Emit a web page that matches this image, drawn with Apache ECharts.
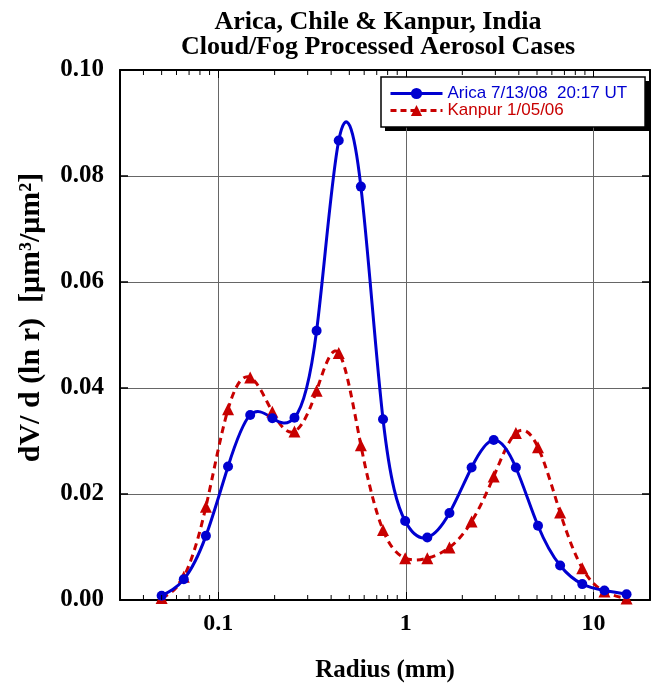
<!DOCTYPE html>
<html>
<head>
<meta charset="utf-8">
<script src="https://cdn.jsdelivr.net/npm/echarts@6/dist/echarts.min.js"></script>
<style>
  html, body { margin: 0; padding: 0; background: #fff; }
  #chart { width: 651px; height: 691px; }
</style>
</head>
<body>
<div id="chart"></div>
<script>
// AERONET radius bins (um)
const radii = [0.05, 0.065604, 0.086077, 0.112939, 0.148184, 0.194429, 0.255105, 0.334716,
  0.439173, 0.576227, 0.756052, 0.991996, 1.301571, 1.707757, 2.240702, 2.939966,
  3.857452, 5.06126, 6.640745, 8.713145, 11.432287, 15.0];

// dV/dlnr values
const arica = [0.0008, 0.0039, 0.0121, 0.0252, 0.0349, 0.0343, 0.0344, 0.0508,
  0.0867, 0.0780, 0.0341, 0.0149, 0.0118, 0.0164, 0.0250, 0.0302,
  0.0250, 0.0140, 0.0065, 0.0030, 0.0018, 0.0011];
const kanpur = [0.0004, 0.0044, 0.0176, 0.0360, 0.0420, 0.0355, 0.0318, 0.0395,
  0.0466, 0.0292, 0.0132, 0.0079, 0.0079, 0.0099, 0.0148, 0.0233,
  0.0315, 0.0288, 0.0165, 0.0060, 0.0016, 0.0003];

const seriesNames = ['Arica 7/13/08  20:17 UT', 'Kanpur 1/05/06'];
const minorTicks = [0.04, 0.05, 0.06, 0.07, 0.08, 0.09,
  0.2, 0.3, 0.4, 0.5, 0.6, 0.7, 0.8, 0.9,
  2, 3, 4, 5, 6, 7, 8, 9];

const BLUE = '#0000d0';
const RED = '#c80000';
const serif = '"Liberation Serif", "Times New Roman", serif';

const chart = echarts.init(document.getElementById('chart'), null, { renderer: 'canvas' });

const pairs = (xs, ys) => xs.map((x, i) => [x, ys[i]]);

// natural cubic spline through pixel points, written as bezier path data
function splinePath(pts) {
    const n = pts.length;
    const h = [], M = new Array(n).fill(0);
    for (let i = 0; i < n - 1; i++) h.push(pts[i + 1][0] - pts[i][0]);
    // tridiagonal solve for second derivatives
    const a = [], b = [], c = [], d = [];
    for (let i = 1; i < n - 1; i++) {
        a.push(h[i - 1]);
        b.push(2 * (h[i - 1] + h[i]));
        c.push(h[i]);
        d.push(6 * ((pts[i + 1][1] - pts[i][1]) / h[i] - (pts[i][1] - pts[i - 1][1]) / h[i - 1]));
    }
    const m = b.length;
    for (let i = 1; i < m; i++) {
        const w = a[i] / b[i - 1];
        b[i] -= w * c[i - 1];
        d[i] -= w * d[i - 1];
    }
    const sol = new Array(m);
    sol[m - 1] = d[m - 1] / b[m - 1];
    for (let i = m - 2; i >= 0; i--) sol[i] = (d[i] - c[i] * sol[i + 1]) / b[i];
    for (let i = 0; i < m; i++) M[i + 1] = sol[i];

    let p = 'M' + pts[0][0] + ' ' + pts[0][1];
    for (let i = 0; i < n - 1; i++) {
        const s = (pts[i + 1][1] - pts[i][1]) / h[i];
        const m0 = s - h[i] * (2 * M[i] + M[i + 1]) / 6;
        const m1 = s + h[i] * (M[i] + 2 * M[i + 1]) / 6;
        const x0 = pts[i][0], y0 = pts[i][1], x1 = pts[i + 1][0], y1 = pts[i + 1][1];
        p += ' C' + (x0 + h[i] / 3) + ' ' + (y0 + m0 * h[i] / 3) + ' ' +
            (x1 - h[i] / 3) + ' ' + (y1 - m1 * h[i] / 3) + ' ' + x1 + ' ' + y1;
    }
    return p;
}

function curveSeries(values, color, dash) {
    return {
        type: 'custom',
        silent: true,
        data: [[radii[0], values[0]]],
        renderItem: function (params, api) {
            const pts = radii.map((r, i) => api.coord([r, values[i]]));
            return {
                type: 'path',
                shape: { pathData: splinePath(pts) },
                style: { fill: null, stroke: color, lineWidth: 3, lineDash: dash }
            };
        },
        z: 2
    };
}

const option = {
    animation: false,
    backgroundColor: '#fff',
    title: {
        text: 'Arica, Chile & Kanpur, India\nCloud/Fog Processed Aerosol Cases',
        left: 373,
        top: 5,
        textAlign: 'center',
        textStyle: {
            fontFamily: serif,
            fontWeight: 'bold',
            fontSize: 26,
            lineHeight: 25,
            color: '#000'
        }
    },
    legend: {
        orient: 'vertical',
        left: 381,
        top: 77,
        padding: [8, 18, 8, 8],
        itemGap: 0,
        itemWidth: 52,
        itemHeight: 14,
        backgroundColor: '#fff',
        borderColor: '#000',
        borderWidth: 1.5,
        textStyle: { fontFamily: '"Liberation Sans", Arial, sans-serif', fontSize: 17 },
        data: [
            { name: seriesNames[0], textStyle: { color: BLUE }, lineStyle: { color: BLUE, width: 3, type: 'solid', opacity: 1 } },
            { name: seriesNames[1], textStyle: { color: RED }, lineStyle: { color: RED, width: 3, type: [6, 4], opacity: 1 } }
        ]
    },
    graphic: [
        // drop shadow behind the legend box
        { type: 'rect', left: 385, top: 81, shape: { width: 264, height: 50 }, style: { fill: '#000' }, z: 0, silent: true }
    ],
    grid: { left: 120, right: 1, top: 70, bottom: 91 },
    xAxis: [
        {
            type: 'log',
            logBase: 10,
            min: 0.03,
            max: 20,
            name: 'Radius (mm)',
            nameLocation: 'middle',
            nameGap: 58,
            nameTextStyle: { fontFamily: serif, fontWeight: 'bold', fontSize: 25, color: '#000' },
            axisLine: { show: true, onZero: false, lineStyle: { color: '#000', width: 2 } },
            axisTick: { show: true, inside: true, length: 8, lineStyle: { color: '#000' } },
            axisLabel: {
                showMinLabel: false,
                showMaxLabel: false,
                margin: 12,
                fontFamily: serif,
                fontWeight: 'bold',
                fontSize: 24,
                color: '#000',
                formatter: v => String(v)
            },
            splitLine: { show: true, lineStyle: { color: '#666', width: 1 } },
            minorTick: { show: false }
        },
        {
            type: 'log',
            logBase: 10,
            min: 0.03,
            max: 20,
            position: 'top',
            axisLine: { show: true, onZero: false, lineStyle: { color: '#000', width: 2 } },
            axisTick: { show: true, inside: true, length: 8, lineStyle: { color: '#000' } },
            axisLabel: { show: false },
            splitLine: { show: false }
        }
    ],
    yAxis: [
        {
            type: 'value',
            min: 0,
            max: 0.1,
            interval: 0.02,
            name: 'dV/ d (ln r)  [μm³/μm²]',
            nameLocation: 'middle',
            nameGap: 74,
            nameRotate: 90,
            nameTextStyle: {
                fontFamily: serif, fontWeight: 'bold', fontSize: 30, color: '#000',
                padding: [0, 0, 0, 35]
            },
            axisLine: { show: true, onZero: false, lineStyle: { color: '#000', width: 2 } },
            axisTick: { show: true, inside: true, length: 8, lineStyle: { color: '#000', width: 1.5 } },
            axisLabel: {
                margin: 16,
                fontFamily: serif,
                fontWeight: 'bold',
                fontSize: 25,
                color: '#000',
                formatter: v => v.toFixed(2)
            },
            splitLine: { show: true, lineStyle: { color: '#666', width: 1 } }
        },
        {
            type: 'value',
            min: 0,
            max: 0.1,
            interval: 0.02,
            position: 'right',
            axisLine: { show: true, onZero: false, lineStyle: { color: '#000', width: 2 } },
            axisTick: { show: true, inside: true, length: 8, lineStyle: { color: '#000', width: 1.5 } },
            axisLabel: { show: false },
            splitLine: { show: false }
        }
    ],
    series: [
        curveSeries(kanpur, RED, [7, 5]),
        curveSeries(arica, BLUE, null),
        {
            name: seriesNames[1],
            type: 'line',
            data: pairs(radii, kanpur),
            symbol: 'triangle',
            symbolSize: 12,
            clip: false,
            itemStyle: { color: RED },
            lineStyle: { color: RED, width: 3, opacity: 0 },
            z: 3
        },
        {
            name: seriesNames[0],
            type: 'line',
            data: pairs(radii, arica),
            symbol: 'circle',
            symbolSize: 10,
            clip: false,
            itemStyle: { color: BLUE },
            lineStyle: { color: BLUE, width: 3, opacity: 0 },
            z: 4
        },
        {
            // minor log ticks on bottom and top axes
            type: 'custom',
            silent: true,
            data: minorTicks.map(v => [v, 0]),
            renderItem: function (params, api) {
                const v = api.value(0);
                const b = api.coord([v, 0]);
                const t = api.coord([v, 0.1]);
                return {
                    type: 'group',
                    children: [
                        { type: 'line', shape: { x1: b[0], y1: b[1], x2: b[0], y2: b[1] - 5 }, style: { stroke: '#000', lineWidth: 1 } },
                        { type: 'line', shape: { x1: t[0], y1: t[1], x2: t[0], y2: t[1] + 5 }, style: { stroke: '#000', lineWidth: 1 } }
                    ]
                };
            },
            z: 5
        }
    ]
};

chart.setOption(option);
</script>
</body>
</html>
